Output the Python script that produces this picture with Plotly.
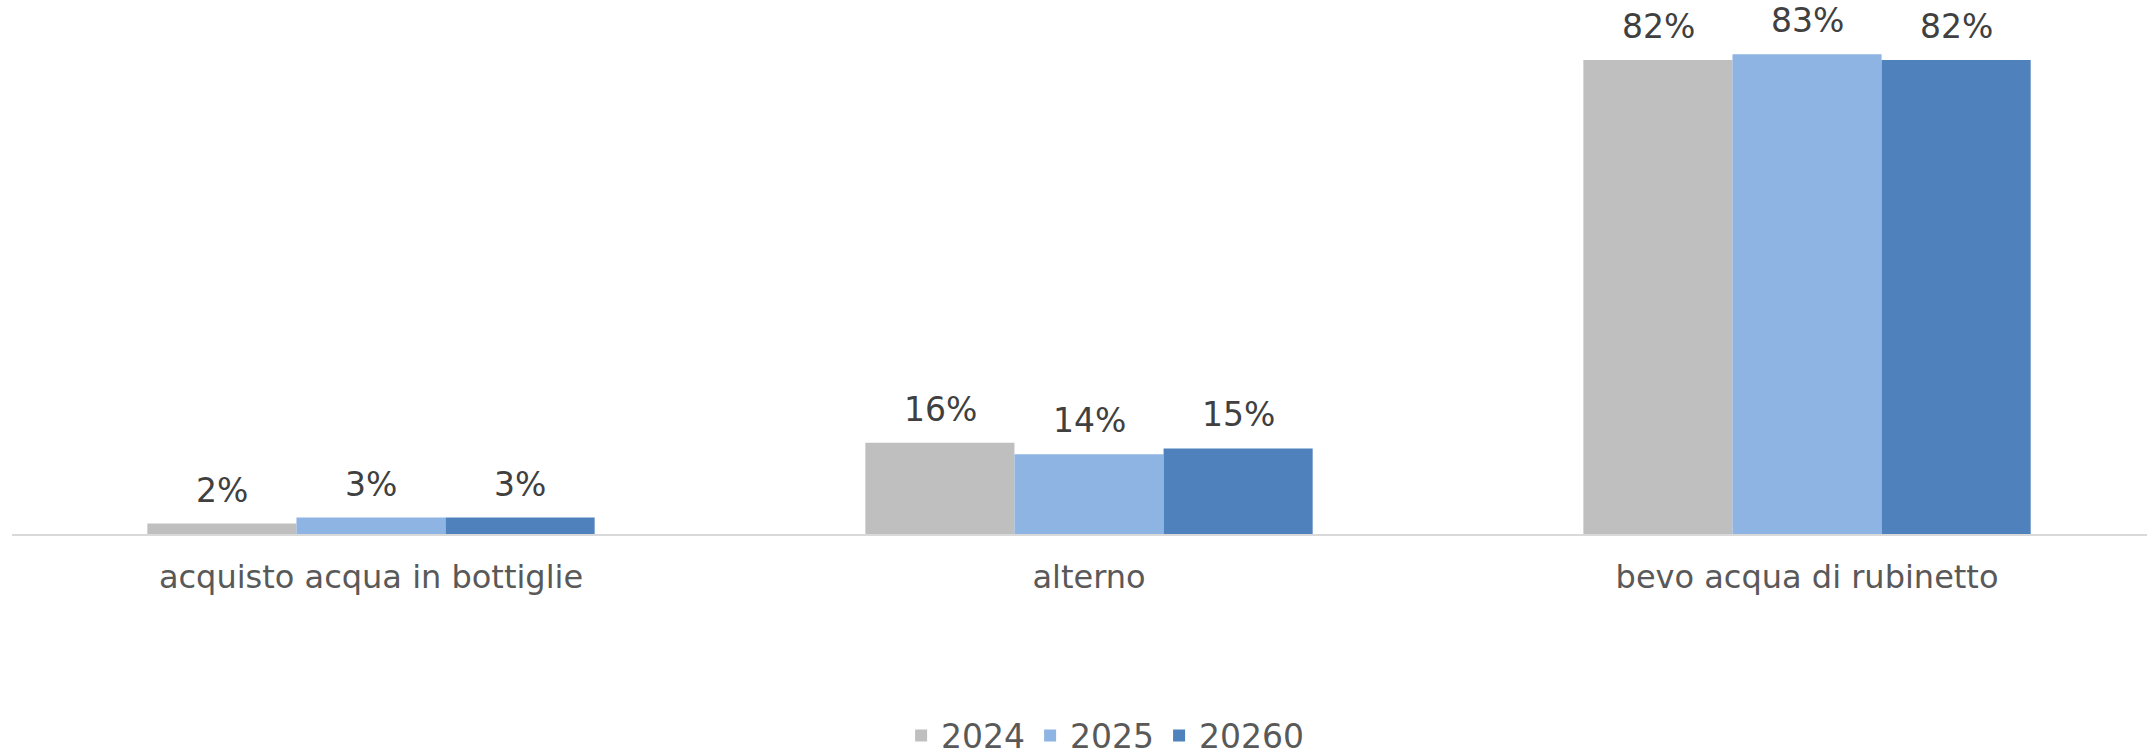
import plotly.graph_objects as go

categories = ["acquisto acqua in bottiglie", "alterno", "bevo acqua di rubinetto"]
series_names = ["2024", "2025", "20260"]
values_2024 = [1.8, 15.8, 82.0]
values_2025 = [2.85, 13.8, 83.0]
values_2026 = [2.85, 14.8, 82.0]
colors = ["#BFBFBF", "#8EB4E3", "#4F81BD"]

W, H = 2147, 755
FONT = "DejaVu Sans"
BAR_PX = 149  # pixel width of one bar, used to centre labels over their bars

fig = go.Figure()
all_vals = [values_2024, values_2025, values_2026]
for name, vals, col in zip(series_names, all_vals, colors):
    fig.add_trace(go.Bar(
        x=categories, y=vals, name=name,
        marker=dict(color=col, line=dict(width=0)),
    ))

for i, vals in enumerate(all_vals):
    for cat, v in zip(categories, vals):
        fig.add_annotation(
            x=cat, y=v, xref="x", yref="y",
            text=f"{round(v):.0f}%", showarrow=False,
            xanchor="center", yanchor="bottom",
            xshift=(i - 1) * BAR_PX, yshift=12,
            font=dict(family=FONT, size=33, color="#404040"),
        )

fig.update_layout(
    width=W, height=H,
    margin=dict(l=12, r=0, t=0, b=221, autoexpand=False),
    paper_bgcolor="white", plot_bgcolor="white",
    barmode="group", bargap=0.377, bargroupgap=0,
    font=dict(family=FONT, size=32, color="#595959"),
    showlegend=True,
    legend=dict(orientation="h", x=0.512, xanchor="center", y=-0.325, yanchor="top",
                font=dict(family=FONT, size=33, color="#595959"),
                itemclick=False, itemdoubleclick=False),
)
fig.update_xaxes(
    type="category", range=[-0.5, 2.4735],
    showline=True, linecolor="#D9D9D9", linewidth=2,
    showgrid=False, ticks="", zeroline=False,
    ticklabelstandoff=14,
    tickfont=dict(family=FONT, size=32, color="#595959"),
)
fig.update_yaxes(
    range=[0, 92.4], showgrid=False, showticklabels=False, zeroline=False, showline=False,
)

fig.write_html("out.html",
               config={"displayModeBar": False},
               post_script="document.body.style.margin='0';document.body.style.overflow='hidden';")
